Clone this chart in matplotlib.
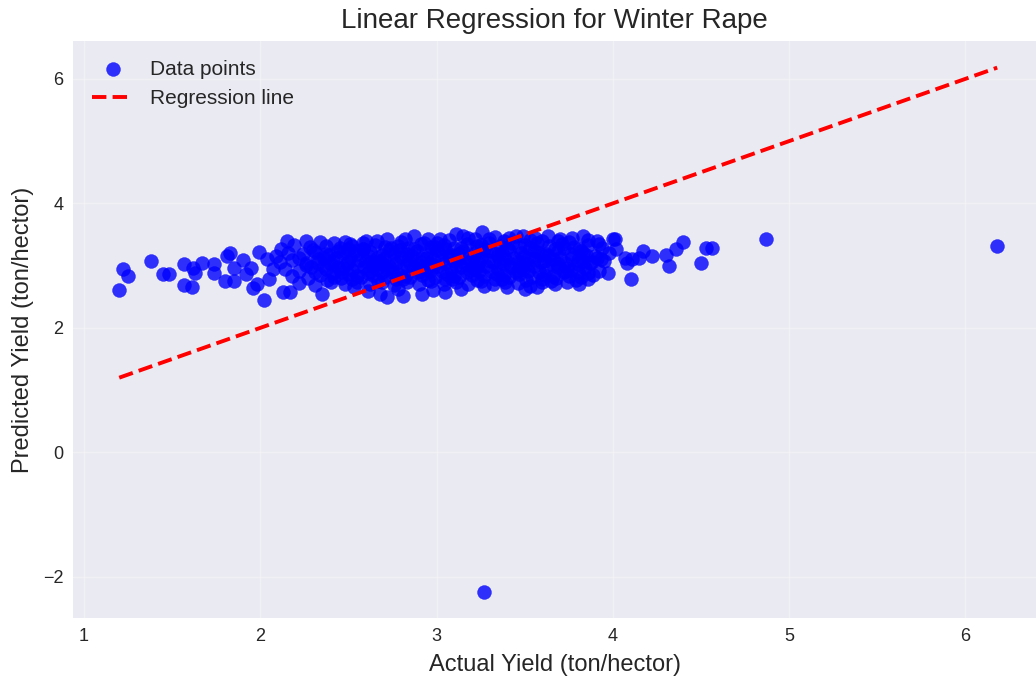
import matplotlib
matplotlib.use("Agg")
import matplotlib.pyplot as plt

# yields in ton/hector: (actual, predicted)
left_tail = [(1.20, 2.61), (1.22, 2.95), (1.25, 2.83), (1.38, 3.07), (1.45, 2.87), (1.48, 2.87),
             (1.57, 3.03), (1.57, 2.69), (1.61, 2.65), (1.62, 2.96), (1.63, 2.88), (1.67, 3.04),
             (1.74, 3.03), (1.74, 2.88), (1.81, 3.16), (1.83, 3.21), (1.80, 2.75), (1.85, 2.75),
             (1.85, 2.96), (1.90, 3.09), (1.92, 2.86), (1.95, 2.96), (1.96, 2.64), (1.98, 2.71),
             (1.99, 3.22), (2.02, 2.45), (2.04, 3.11), (2.05, 2.79), (2.07, 2.95)]

core_top = [(2.15, 3.40), (2.26, 3.40), (2.34, 3.38), (2.42, 3.36), (2.51, 3.35), (2.60, 3.39),
            (2.72, 3.43), (2.80, 3.38), (2.87, 3.48), (2.95, 3.42), (3.02, 3.43), (3.11, 3.51),
            (3.18, 3.45), (3.26, 3.54), (3.33, 3.46), (3.41, 3.44), (3.49, 3.48), (3.56, 3.44),
            (3.63, 3.47), (3.70, 3.42), (3.77, 3.45), (3.83, 3.48), (3.91, 3.40), (4.00, 3.43)]

core_mid = [
    (2.12, 3.27), (2.19, 3.33), (2.28, 3.30), (2.37, 3.32), (2.45, 3.29), (2.52, 3.31), (2.58, 3.27),
    (2.65, 3.33), (2.71, 3.30), (2.78, 3.32), (2.84, 3.28), (2.91, 3.34), (2.97, 3.30), (3.04, 3.33),
    (3.10, 3.29), (3.17, 3.35), (3.23, 3.31), (3.30, 3.36), (3.36, 3.32), (3.43, 3.37), (3.50, 3.33),
    (3.57, 3.36), (3.64, 3.31), (3.71, 3.34), (3.78, 3.30), (3.86, 3.33), (3.94, 3.29), (4.02, 3.27),
    (2.09, 3.16), (2.16, 3.21), (2.24, 3.18), (2.31, 3.22), (2.39, 3.17), (2.47, 3.21), (2.55, 3.19),
    (2.62, 3.22), (2.69, 3.17), (2.76, 3.21), (2.83, 3.18), (2.89, 3.23), (2.96, 3.19), (3.03, 3.22),
    (3.09, 3.17), (3.15, 3.24), (3.22, 3.20), (3.28, 3.23), (3.35, 3.18), (3.41, 3.25), (3.48, 3.21),
    (3.55, 3.24), (3.62, 3.19), (3.69, 3.23), (3.76, 3.18), (3.83, 3.21), (3.90, 3.16), (3.98, 3.20),
    (2.11, 3.06), (2.18, 3.09), (2.26, 3.04), (2.33, 3.10), (2.41, 3.07), (2.49, 3.04), (2.56, 3.09),
    (2.63, 3.06), (2.70, 3.11), (2.77, 3.05), (2.84, 3.09), (2.91, 3.06), (2.98, 3.10), (3.05, 3.05),
    (3.12, 3.11), (3.19, 3.07), (3.25, 3.12), (3.32, 3.06), (3.39, 3.10), (3.46, 3.07), (3.52, 3.12),
    (3.59, 3.06), (3.66, 3.10), (3.73, 3.05), (3.80, 3.09), (3.87, 3.04), (3.95, 3.08),
    (2.14, 2.95), (2.22, 2.92), (2.29, 2.97), (2.37, 2.94), (2.44, 2.98), (2.52, 2.93), (2.59, 2.97),
    (2.66, 2.94), (2.73, 2.99), (2.80, 2.93), (2.87, 2.97), (2.94, 2.95), (3.01, 2.99), (3.08, 2.94),
    (3.14, 2.98), (3.21, 2.95), (3.28, 3.00), (3.35, 2.94), (3.42, 2.98), (3.49, 2.95), (3.55, 2.99),
    (3.62, 2.94), (3.69, 2.97), (3.76, 2.93), (3.84, 2.96), (3.92, 2.91),
    (2.18, 2.84), (2.27, 2.80), (2.34, 2.85), (2.42, 2.82), (2.50, 2.86), (2.57, 2.81), (2.64, 2.85),
    (2.71, 2.82), (2.78, 2.87), (2.85, 2.81), (2.92, 2.85), (2.99, 2.82), (3.06, 2.86), (3.13, 2.81),
    (3.20, 2.85), (3.27, 2.83), (3.34, 2.87), (3.41, 2.82), (3.47, 2.86), (3.54, 2.81), (3.61, 2.85),
    (3.68, 2.80), (3.75, 2.84), (3.82, 2.82), (3.89, 2.85),
]

core_fill = [
    (2.48, 3.38), (2.66, 3.40), (2.93, 3.37), (3.07, 3.41), (3.22, 3.43), (3.38, 3.40), (3.53, 3.41),
    (3.69, 3.39), (3.86, 3.41),
    (2.30, 3.25), (2.44, 3.24), (2.58, 3.26), (2.73, 3.25), (2.87, 3.27), (3.00, 3.25), (3.14, 3.28),
    (3.27, 3.27), (3.40, 3.29), (3.53, 3.28), (3.67, 3.27), (3.81, 3.26),
    (2.22, 3.12), (2.36, 3.13), (2.51, 3.14), (2.66, 3.12), (2.80, 3.14), (2.94, 3.13), (3.07, 3.15),
    (3.21, 3.14), (3.35, 3.15), (3.49, 3.14), (3.63, 3.15), (3.77, 3.13), (3.91, 3.12),
    (2.26, 3.01), (2.40, 3.02), (2.55, 3.00), (2.69, 3.02), (2.83, 3.01), (2.97, 3.03), (3.11, 3.01),
    (3.24, 3.04), (3.38, 3.02), (3.52, 3.03), (3.66, 3.01), (3.80, 3.02),
    (2.31, 2.89), (2.46, 2.90), (2.61, 2.88), (2.75, 2.90), (2.89, 2.89), (3.03, 2.91), (3.17, 2.89),
    (3.31, 2.91), (3.45, 2.90), (3.58, 2.89), (3.72, 2.90), (3.86, 2.88),
    (2.38, 2.77), (2.52, 2.78), (2.67, 2.76), (2.81, 2.78), (2.95, 2.77), (3.09, 2.78), (3.23, 2.77),
    (3.37, 2.78), (3.51, 2.77), (3.65, 2.76), (3.79, 2.77),
]

core_dense = [
    (2.37, 3.19), (2.50, 3.27), (2.61, 3.16), (2.74, 3.29), (2.86, 3.15), (2.99, 3.30), (3.12, 3.18),
    (3.25, 3.33), (3.37, 3.20), (3.47, 3.30), (3.60, 3.17), (3.72, 3.28), (3.85, 3.17),
    (2.33, 3.04), (2.47, 2.96), (2.60, 3.08), (2.72, 2.95), (2.85, 3.05), (2.98, 2.97), (3.10, 3.08),
    (3.23, 2.97), (3.36, 3.08), (3.48, 2.97), (3.61, 3.08), (3.74, 2.96), (3.88, 3.06),
    (2.41, 2.88), (2.55, 2.84), (2.69, 2.90), (2.82, 2.83), (2.96, 2.91), (3.10, 2.84), (3.24, 2.91),
    (3.38, 2.85), (3.52, 2.92), (3.66, 2.84), (3.80, 2.90),
    (2.58, 3.36), (2.82, 3.42), (3.00, 3.37), (3.15, 3.47), (3.30, 3.42), (3.45, 3.47), (3.60, 3.40),
    (3.75, 3.38), (3.92, 3.35),
    (2.43, 3.13), (2.54, 3.23), (2.68, 3.07), (2.79, 3.25), (2.92, 3.12), (3.05, 3.26), (3.17, 3.13),
    (3.31, 3.24), (3.44, 3.13), (3.57, 3.22), (3.70, 3.12), (3.82, 3.24), (3.93, 3.11),
    (2.36, 2.99), (2.50, 3.06), (2.64, 2.99), (2.76, 3.08), (2.90, 3.00), (3.03, 3.09), (3.16, 3.02),
    (3.29, 3.09), (3.42, 3.03), (3.55, 3.10), (3.69, 3.02), (3.83, 3.07),
    (2.46, 2.80), (2.62, 2.92), (2.77, 2.79), (2.91, 2.92), (3.05, 2.79), (3.19, 2.93), (3.33, 2.79),
    (3.47, 2.93), (3.60, 2.79), (3.73, 2.91), (3.86, 2.79),
]

core_bottom = [
    (2.22, 2.72), (2.31, 2.69), (2.40, 2.73), (2.48, 2.70), (2.55, 2.74), (2.62, 2.70), (2.69, 2.73),
    (2.76, 2.69), (2.83, 2.74), (2.90, 2.71), (2.97, 2.75), (3.04, 2.70), (3.11, 2.74), (3.18, 2.71),
    (3.25, 2.75), (3.32, 2.70), (3.39, 2.74), (3.46, 2.72), (3.53, 2.68), (3.60, 2.73), (3.67, 2.70),
    (3.74, 2.74), (3.81, 2.71),
    (2.13, 2.57), (2.17, 2.57), (2.35, 2.55), (2.53, 2.65), (2.61, 2.60), (2.68, 2.55), (2.72, 2.49),
    (2.78, 2.62), (2.81, 2.52), (2.92, 2.55), (2.98, 2.61), (3.05, 2.57), (3.14, 2.63), (3.27, 2.68),
    (3.40, 2.66), (3.50, 2.63), (3.57, 2.65),
]

right_tail = [(3.97, 2.88), (4.01, 3.42), (4.07, 3.13), (4.08, 3.05), (4.10, 2.78), (4.11, 3.11),
              (4.15, 3.13), (4.17, 3.24), (4.22, 3.16), (4.30, 3.17), (4.32, 3.00), (4.36, 3.27),
              (4.40, 3.38), (4.50, 3.05), (4.53, 3.29), (4.56, 3.29)]

outliers = [(4.87, 3.43), (6.18, 3.31), (3.27, -2.25)]

points = (left_tail + core_top + core_mid + core_fill + core_dense + core_bottom
          + right_tail + outliers)
actual = [p[0] for p in points]
predicted = [p[1] for p in points]

plt.style.use("seaborn-v0_8")
plt.rcParams["font.family"] = ["Liberation Sans", "DejaVu Sans"]
fig = plt.figure(figsize=(10.36, 6.81), dpi=100)
ax = fig.add_axes([0.0705, 0.0925, 0.9295, 0.8475])

ax.scatter(actual, predicted, color="blue", alpha=0.8, s=100, label="Data points")
lo, hi = min(actual), max(actual)
ax.plot([lo, hi], [lo, hi], "r--", lw=2.8, label="Regression line")

ax.set_xlim(0.938, 6.40)
ax.set_ylim(-2.66, 6.61)
ax.set_title("Linear Regression for Winter Rape", fontsize=20, pad=9)
ax.set_xlabel("Actual Yield (ton/hector)", fontsize=17, labelpad=7)
ax.set_ylabel("Predicted Yield (ton/hector)", fontsize=17, labelpad=6)
ax.tick_params(labelsize=13)
ax.grid(True, alpha=0.3)
ax.legend(loc="upper left", fontsize=15)

fig.savefig("out.png", dpi=100)
